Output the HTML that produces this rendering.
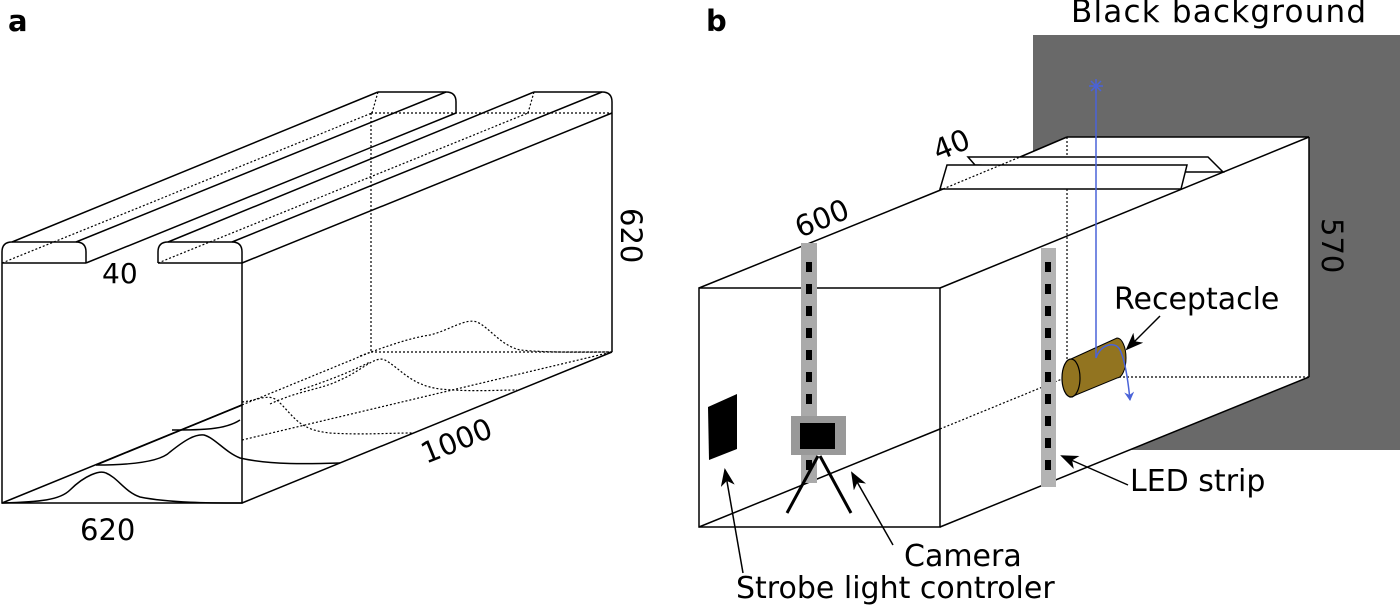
<!DOCTYPE html>
<html><head><meta charset="utf-8"><style>
html,body{margin:0;padding:0;background:#fff;}
svg{display:block;}
text{font-family:"DejaVu Sans","Liberation Sans",sans-serif;fill:#000;}
</style></head><body>
<svg width="1400" height="606" viewBox="0 0 1400 606" xmlns="http://www.w3.org/2000/svg">
<defs>
<marker id="ah" markerWidth="18" markerHeight="14" refX="16" refY="7" orient="auto" markerUnits="userSpaceOnUse">
<path d="M0,0 L18,7 L0,14 L5,7 Z" fill="#000"/></marker>
<marker id="bh" markerWidth="10" markerHeight="10" refX="8" refY="5" orient="auto" markerUnits="userSpaceOnUse">
<path d="M0,0 L9,5 L0,10 L3,5 Z" fill="#4a63d8"/></marker>
</defs>
<text x="8" y="31" font-size="29" font-weight="bold">a</text>
<text x="706" y="31" font-size="29" font-weight="bold">b</text>

<!-- Panel a -->
<g fill="none" stroke="#000" stroke-width="1.5">
<path d="M2,263 L2,503 L242,503 L242,263"/>
<line x1="2" y1="263" x2="86" y2="263"/>
<line x1="158" y1="263" x2="242" y2="263"/>
<line x1="242" y1="503" x2="612" y2="352"/>
<line x1="612" y1="352" x2="612" y2="113"/>
<line x1="242" y1="263" x2="612" y2="113"/>
<path d="M2,263 L2,252 Q2,242 12,242 L76,242 Q86,242 86,252 L86,263"/>
<line x1="12" y1="242" x2="378" y2="92"/>
<line x1="76" y1="242" x2="446" y2="92"/>
<line x1="86" y1="263" x2="456" y2="113"/>
<path d="M378,92 L446,92 Q456,92 456,102 L456,113"/>
<path d="M158,263 L158,252 Q158,242 168,242 L232,242 Q242,242 242,252 L242,263"/>
<line x1="168" y1="242" x2="534" y2="92"/>
<line x1="232" y1="242" x2="602" y2="92"/>
<path d="M534,92 L602,92 Q612,92 612,102 L612,113"/>
<line x1="2" y1="503" x2="242" y2="405"/>
<path d="M2,503 C40,502 60,500 70,490 C85,475 100,470 106,473 C118,478 125,492 140,497 C170,503 210,503 242,503"/>
<path d="M96,465 C130,465 160,462 170,452 C185,440 195,434 204,435 C215,438 225,452 240,458 C270,465 310,464 340,463"/>
<line x1="96" y1="465" x2="242" y2="405"/>
<path d="M172,430 C200,430 225,430 240,420"/>
</g>
<g fill="none" stroke="#000" stroke-width="1.2" stroke-dasharray="2,2">
<line x1="371" y1="113" x2="612" y2="113"/>
<line x1="371" y1="113" x2="371" y2="352"/>
<line x1="371" y1="352" x2="612" y2="352"/>
<line x1="242" y1="405" x2="371" y2="352"/>
<line x1="2" y1="263" x2="372" y2="113"/>
<line x1="158" y1="263" x2="528" y2="113"/>
<line x1="378" y1="92" x2="372" y2="113"/>
<line x1="534" y1="92" x2="528" y2="113"/>
<path d="M242,402 C260,400 270,392 280,403 C295,418 300,430 330,433 C360,435 390,433 412,433"/>
<path d="M270,404 C300,390 320,390 340,380 C360,372 375,355 385,360 C400,368 410,385 440,389 C470,392 500,390 517,390"/>
<path d="M300,390 C330,380 350,372 370,362"/>
<path d="M360,356 C390,345 410,338 430,335 C450,330 465,318 477,322 C490,328 500,345 520,350 C550,353 590,352 612,352"/>
<line x1="242" y1="440" x2="612" y2="352"/>
</g>
<text x="102" y="283" font-size="28">40</text>
<text x="80" y="540" font-size="29">620</text>
<text font-size="29" transform="translate(621,208) rotate(90)">620</text>
<text font-size="29" transform="translate(426,464) rotate(-22)">1000</text>

<!-- Panel b -->
<rect x="1033" y="35" width="367" height="415" fill="#696969"/>
<text x="1071" y="22" font-size="31" letter-spacing="1.2">Black background</text>
<polygon points="940,288 1309,137 1309,377 940,527" fill="#fff"/>
<polygon points="699,288 1067,137 1309,137 940,288" fill="#fff"/>
<rect x="699" y="288" width="241" height="239" fill="#fff"/>
<g fill="none" stroke="#000" stroke-width="1.5">
<rect x="699" y="288" width="241" height="239"/>
<line x1="699" y1="288" x2="943" y2="189"/>
<line x1="1020" y1="157" x2="1067" y2="137"/>
<line x1="1067" y1="137" x2="1309" y2="137"/>
<line x1="940" y1="288" x2="1309" y2="137"/>
<line x1="1309" y1="137" x2="1309" y2="377"/>
<line x1="940" y1="527" x2="1309" y2="377"/>
<line x1="699" y1="527" x2="940" y2="429"/>
</g>
<g fill="none" stroke="#000" stroke-width="1.2" stroke-dasharray="2,2">
<line x1="1067" y1="137" x2="1067" y2="377"/>
<line x1="1067" y1="377" x2="1309" y2="377"/>
<line x1="940" y1="429" x2="1067" y2="377"/>
</g>
<polygon points="968,157 1208,157 1223,172 1187,172 975,165" fill="#fff" stroke="#000" stroke-width="1.5"/>
<polygon points="940,189 947,165 1187,165 1181,189" fill="#fff" stroke="#000" stroke-width="1.5"/>
<line x1="943" y1="189" x2="1020" y2="157" stroke="#000" stroke-width="1.2" stroke-dasharray="2,2"/>
<text font-size="29" transform="translate(938,161) rotate(-22)">40</text>
<text font-size="29" transform="translate(800,238) rotate(-22)">600</text>
<text font-size="29" transform="translate(1322,218) rotate(90)">570</text>
<rect x="801" y="243" width="16" height="240" fill="#aaa"/>
<rect x="1041" y="248" width="15" height="239" fill="#b3b3b3"/>
<g fill="#000">
<rect x="806" y="262" width="6" height="10"/><rect x="806" y="284" width="6" height="10"/><rect x="806" y="306" width="6" height="10"/><rect x="806" y="328" width="6" height="10"/><rect x="806" y="350" width="6" height="10"/><rect x="806" y="372" width="6" height="10"/><rect x="806" y="394" width="6" height="10"/><rect x="806" y="460" width="6" height="10"/>
<rect x="1045" y="262" width="6" height="10"/><rect x="1045" y="284" width="6" height="10"/><rect x="1045" y="306" width="6" height="10"/><rect x="1045" y="328" width="6" height="10"/><rect x="1045" y="350" width="6" height="10"/><rect x="1045" y="372" width="6" height="10"/><rect x="1045" y="394" width="6" height="10"/><rect x="1045" y="416" width="6" height="10"/><rect x="1045" y="438" width="6" height="10"/><rect x="1045" y="460" width="6" height="10"/>
</g>
<rect x="791" y="416" width="55" height="39" fill="#999"/>
<rect x="800" y="423" width="35" height="26" fill="#000"/>
<line x1="818" y1="456" x2="787" y2="513" stroke="#000" stroke-width="3"/>
<line x1="820" y1="456" x2="851" y2="513" stroke="#000" stroke-width="3"/>
<polygon points="708,407 737,394 737,449 709,460" fill="#000"/>
<path d="M1071,359 L1117,338 A9,20 0 0 1 1117,378 L1071,397 Z" fill="#927420" stroke="#000" stroke-width="1"/>
<ellipse cx="1071" cy="378" rx="9" ry="19" fill="#927420" stroke="#000" stroke-width="1.2"/>
<line x1="1096" y1="86" x2="1096" y2="358" stroke="#4a63d8" stroke-width="1.5"/>
<path d="M1096,358 C1100,345 1115,340 1120,350 C1125,360 1128,380 1130,400" fill="none" stroke="#4a63d8" stroke-width="1.5" marker-end="url(#bh)"/>
<g stroke="#4a63d8" stroke-width="1.5">
<line x1="1089" y1="86" x2="1103" y2="86"/><line x1="1096" y1="79" x2="1096" y2="93"/>
<line x1="1091" y1="81" x2="1101" y2="91"/><line x1="1101" y1="81" x2="1091" y2="91"/>
</g>
<text x="1114" y="309" font-size="30">Receptacle</text>
<line x1="1160" y1="316" x2="1127" y2="349" stroke="#000" stroke-width="1.5" marker-end="url(#ah)"/>
<text x="1130" y="491" font-size="30">LED strip</text>
<line x1="1128" y1="485" x2="1062" y2="456" stroke="#000" stroke-width="1.5" marker-end="url(#ah)"/>
<text x="904" y="566" font-size="30">Camera</text>
<line x1="893" y1="545" x2="852" y2="473" stroke="#000" stroke-width="1.5" marker-end="url(#ah)"/>
<text x="736" y="598" font-size="30">Strobe light controler</text>
<line x1="743" y1="573" x2="725" y2="470" stroke="#000" stroke-width="1.5" marker-end="url(#ah)"/>
</svg>
</body></html>
